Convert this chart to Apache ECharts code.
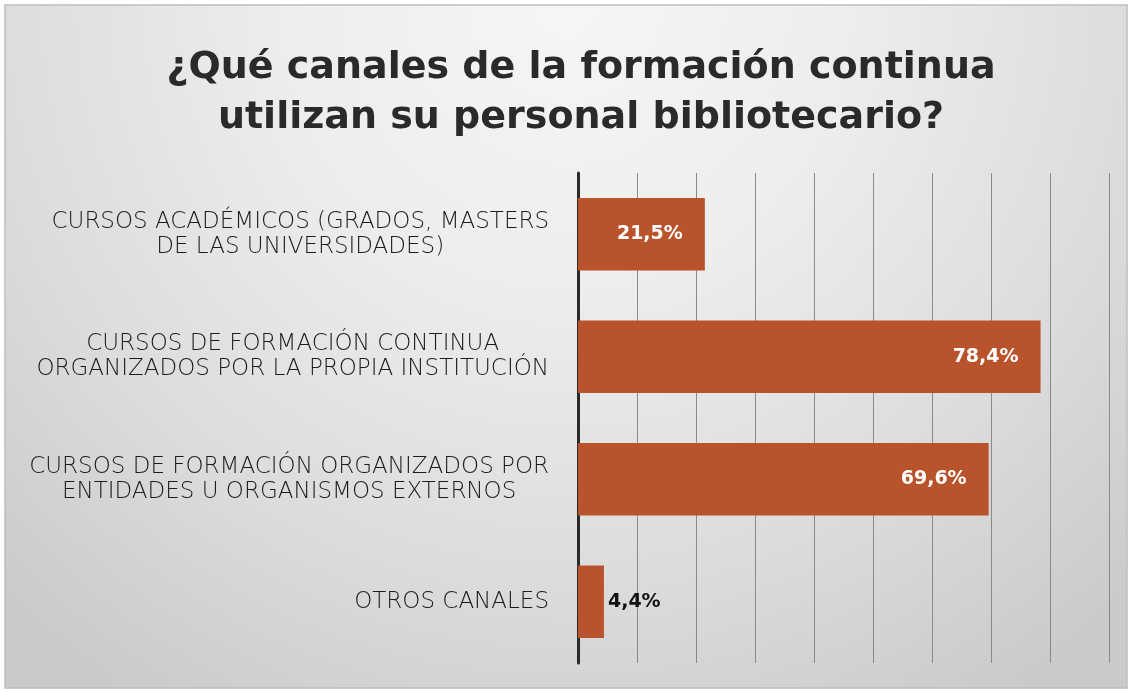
<!DOCTYPE html>
<html><head><meta charset="utf-8">
<script src="https://cdn.jsdelivr.net/npm/echarts@6/dist/echarts.min.js"></script>
<style>html,body{margin:0;padding:0;background:#fff;}#c{width:1132px;height:693px;}</style>
</head><body><div id="c"></div>
<script>
const titleText = '¿Qué canales de la formación continua\nutilizan su personal bibliotecario?';
const categories = [
  'CURSOS ACADÉMICOS (GRADOS, MASTERS\nDE LAS UNIVERSIDADES)',
  'CURSOS DE FORMACIÓN CONTINUA\nORGANIZADOS POR LA PROPIA INSTITUCIÓN',
  'CURSOS DE FORMACIÓN ORGANIZADOS POR\nENTIDADES U ORGANISMOS EXTERNOS',
  'OTROS CANALES'
];
const values = [21.5, 78.4, 69.6, 4.4];
const valueLabels = ['21,5%', '78,4%', '69,6%', '4,4%'];

const chart = echarts.init(document.getElementById('c'));
const barColor = '#b9532c';
const labelFont = {fontFamily: 'DejaVu Sans', fontWeight: 200, fontSize: 23, lineHeight: 25, color: '#1c1c1c'};
chart.setOption({
  backgroundColor: '#ffffff',
  graphic: [{
    type: 'rect', z: -10, silent: true,
    shape: {x: 5, y: 5, width: 1122, height: 683},
    style: {
      fill: {
        type: 'radial', x: 0.5, y: 0.0, r: 1.2,
        colorStops: [{offset: 0, color: '#f6f6f5'}, {offset: 0.35, color: '#ededec'}, {offset: 0.7, color: '#dcdcdc'}, {offset: 1, color: '#cacaca'}]
      },
      stroke: '#bdbdbd', lineWidth: 1.5
    }
  }],
  title: {
    text: titleText, left: 576, textAlign: 'center', top: 38,
    textStyle: {fontFamily: 'DejaVu Sans', fontWeight: 'bold', fontSize: 38, lineHeight: 50, color: '#2a2a2a'}
  },
  grid: {left: 578, right: 23, top: 173, bottom: 30},
  xAxis: {
    type: 'value', min: 0, max: 90, interval: 10,
    axisLabel: {show: false}, axisTick: {show: false}, axisLine: {show: false},
    splitLine: {show: true, lineStyle: {color: '#8a8a8a', width: 1}}
  },
  yAxis: {
    type: 'category', data: categories, inverse: true,
    axisLine: {show: true, lineStyle: {color: '#2a2a2a', width: 3}},
    axisTick: {show: false},
    axisLabel: Object.assign({
      margin: 29, align: 'right',
      formatter: function (v) { return v.split('\n').map(function (s) { return '{c|' + s + '}'; }).join('\n'); },
      rich: {c: Object.assign({align: 'center'}, labelFont)}
    }, labelFont)
  },
  series: [{
    type: 'bar', barWidth: '59%',
    itemStyle: {color: barColor},
    label: {
      show: true,
      formatter: function (p) { return valueLabels[p.dataIndex]; },
      fontFamily: 'DejaVu Sans', fontWeight: 'bold', fontSize: 19
    },
    data: values.map(function (v) {
      return v > 10
        ? {value: v, label: {position: 'insideRight', distance: 22, color: '#ffffff'}}
        : {value: v, label: {position: 'right', distance: 4, color: '#111111'}};
    })
  }]
});
</script></body></html>
